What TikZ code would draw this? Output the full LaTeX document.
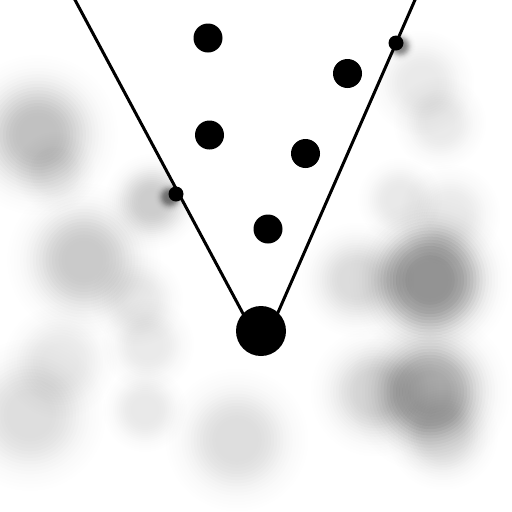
\documentclass[tikz,border=0pt]{standalone}
\tikzset{
  dot/.style={circle, fill=black, draw=none, inner sep=0pt, minimum size=#1},
  cone/.style={line width=3pt, draw=black, line join=round}
}
% blurred disc: small flat core, long soft tail
\newcommand\myblob[4]{%
  \foreach \k in {1,...,30}{%
    \pgfmathsetmacro\ra{0.1*\k*#3}%
    \pgfmathsetmacro\xa{max(0.1*(\k-1)-0.5,0)/0.7}%
    \pgfmathsetmacro\xb{max(0.1*\k-0.5,0)/0.7}%
    \pgfmathsetmacro\wa{#4*(exp(-\xa*\xa/2)-exp(-\xb*\xb/2))}%
    \fill[black, fill opacity=\wa] (#1,#2) circle[radius=\ra pt];%
  }%
}
\begin{document}
\begin{tikzpicture}[x=1pt,y=-1pt]
\useasboundingbox (0,0) rectangle (512,512);
\fill[white] (0,0) rectangle (512,512);
% blurred background blobs
\myblob{38}{135}{32}{0.25}
\myblob{55}{172}{20}{0.07}
\myblob{152}{202}{20}{0.2}
\myblob{84}{260}{32}{0.21}
\myblob{137}{300}{22}{0.09}
\myblob{60}{362}{27}{0.09}
\myblob{148}{345}{22}{0.08}
\myblob{145}{410}{20}{0.09}
\myblob{30}{415}{33}{0.13}
\myblob{237}{440}{31}{0.13}
\myblob{430}{280}{31}{0.5}
\myblob{357}{280}{25}{0.14}
\myblob{400}{200}{20}{0.09}
\myblob{450}{215}{24}{0.08}
\myblob{430}{392}{31}{0.36}
\myblob{375}{392}{28}{0.16}
\myblob{443}{435}{25}{0.12}
\myblob{422}{83}{25}{0.08}
\myblob{440}{123}{22}{0.08}
\myblob{170}{197}{6}{0.55}
\myblob{400}{46}{6}{0.55}
% cone
\coordinate (tl) at (72.9,-4);
\coordinate (tr) at (416.7,-4);
\coordinate (apex) at (262,349);
\fill[white] (tl) -- (apex) -- (tr) -- cycle;
\draw[cone] (tl) -- (apex) -- (tr);
% events
\node[dot=50pt] (origin) at (261,331) {};
\node[dot=15pt] (sl) at (176,194) {};
\node[dot=15pt] (sr) at (396,43) {};
\node[dot=29pt] (e1) at (208,38) {};
\node[dot=29pt] (e2) at (347.5,73.5) {};
\node[dot=29pt] (e3) at (209.5,135) {};
\node[dot=29pt] (e4) at (305.5,153.5) {};
\node[dot=29pt] (e5) at (268,229) {};
\end{tikzpicture}
\end{document}
